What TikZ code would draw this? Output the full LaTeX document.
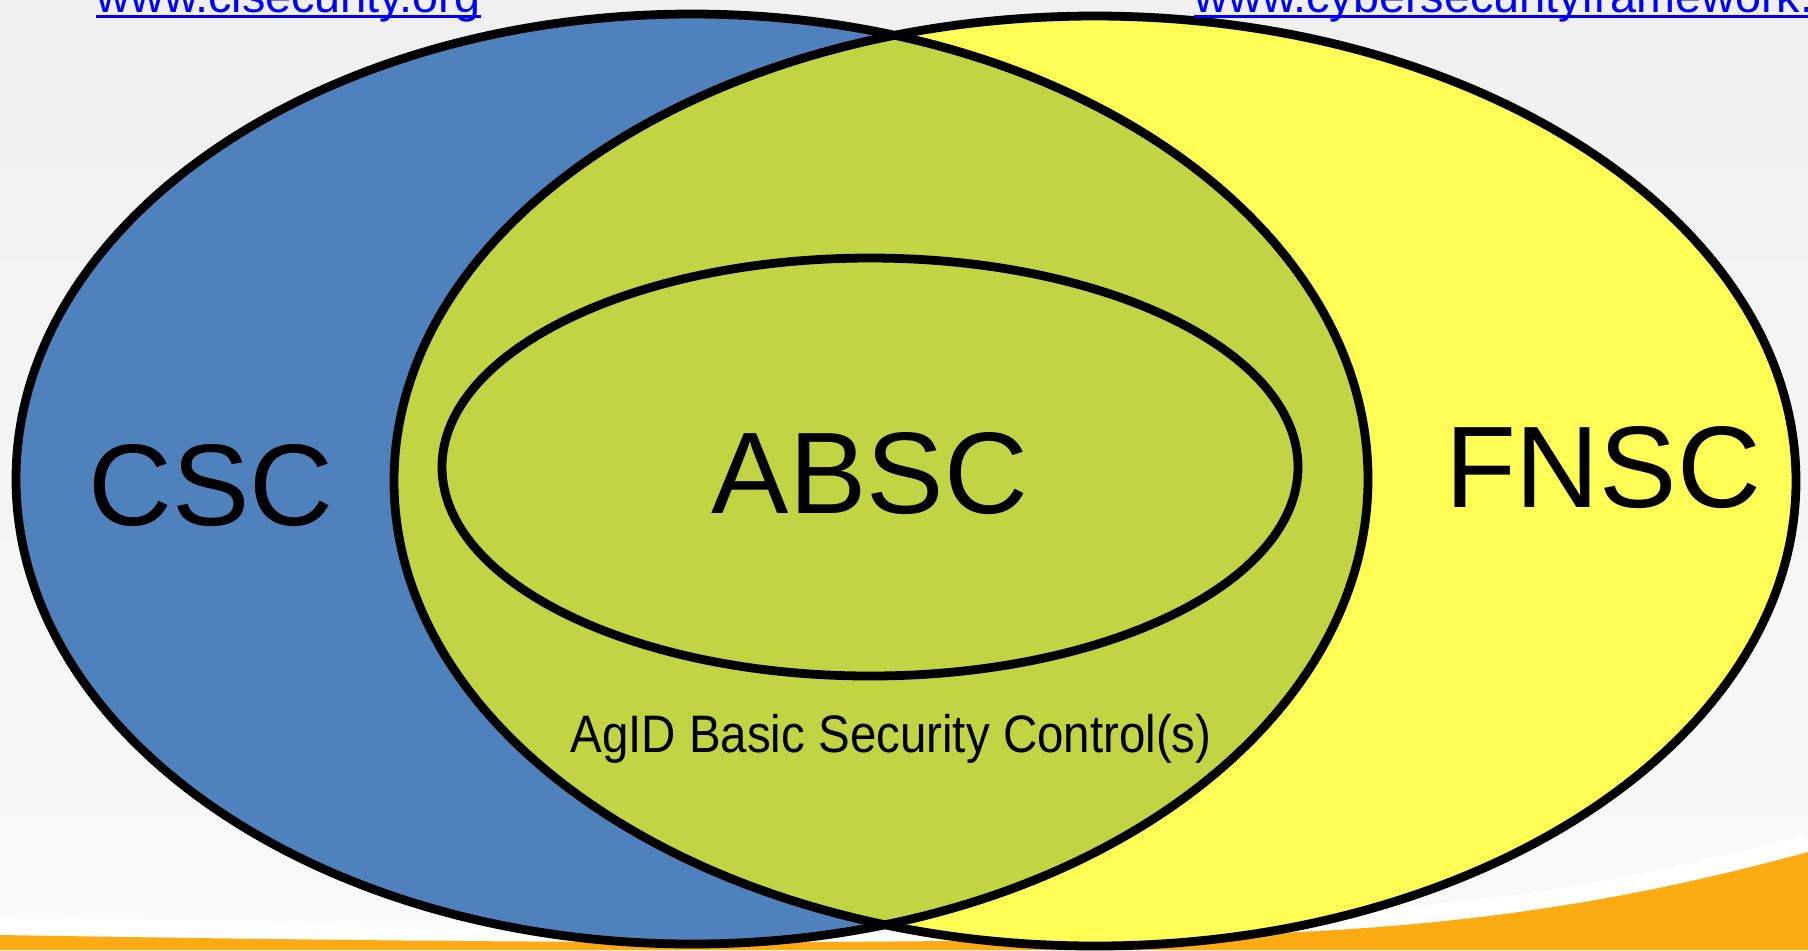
\documentclass[tikz,border=0pt]{standalone}
\usepackage{fontspec}
\setmainfont{Liberation Sans}
\newfontfamily\narrowfont[FakeStretch=0.9]{Liberation Sans}
\usetikzlibrary{shapes.geometric}
\definecolor{cscblue}{HTML}{4F81BD}
\definecolor{fnscyellow}{HTML}{FDFD55}
\definecolor{abscgreen}{HTML}{C2D443}
\definecolor{bandorange}{HTML}{FDAB13}
\definecolor{linkblue}{HTML}{0000FF}

\begin{document}
\begin{tikzpicture}[x=0.01cm,y=-0.01cm,
	outline/.style={draw=black, line width=2.5pt},
	setlabel/.style={font=\fontsize{33}{36}\selectfont, anchor=base, inner sep=0pt},
	weblink/.style={text=linkblue, font=\fontsize{13.3}{15}\selectfont, anchor=base west, inner sep=0pt}]
	
	\useasboundingbox (0,0) rectangle (1808,950);
	\clip (0,0) rectangle (1808,950);
	\fill[top color=black!6, bottom color=black!2] (0,0) rectangle (1808,950);
	
	% orange band at the bottom
	\draw[white, line width=5pt] (0,926) .. controls (600,936) and (1000,936) .. (1300,923) .. controls (1500,913) and (1650,886) .. (1808,843);
	\fill[bandorange] (0,935) .. controls (600,945) and (1000,945) .. (1300,932) .. controls (1500,922) and (1650,895) .. (1808,852) -- (1808,950) -- (0,950) -- cycle;
	
	% the sets
	\fill[cscblue] (692,479) ellipse [x radius=676, y radius=465];
	\fill[fnscyellow] (1095,481) ellipse [x radius=701, y radius=465];
	\begin{scope}
		\clip (692,479) ellipse [x radius=676, y radius=465];
		\fill[abscgreen] (1095,481) ellipse [x radius=701, y radius=465];
	\end{scope}
	\draw[outline] (692,479) ellipse [x radius=676, y radius=465];
	\draw[outline] (1095,481) ellipse [x radius=701, y radius=465];
	\draw[outline] (870,467) ellipse [x radius=428, y radius=209];
	
	\node[setlabel] (csc) at (211,525) {CSC};
	\node[setlabel] (absc) at (870,513) {ABSC};
	\node[setlabel] (fnsc) at (1603,507) {FNSC};
	\node[anchor=base, inner sep=0pt, font=\narrowfont\fontsize{15}{18}\selectfont] (agid) at (891,752) {AgID Basic Security Control(s)};
	
	% links cut by the top edge
	\node[weblink] (cis) at (96,12) {www.cisecurity.org};
	\node[weblink] (csf) at (1194,12) {www.cybersecurityframework.it};
	\draw[linkblue, line width=0.7pt] ([yshift=-1.3pt]cis.base west) -- ([yshift=-1.3pt]cis.base east);
	\draw[linkblue, line width=0.7pt] ([yshift=-1.3pt]csf.base west) -- ([yshift=-1.3pt]csf.base east);
	
\end{tikzpicture}
\end{document}
